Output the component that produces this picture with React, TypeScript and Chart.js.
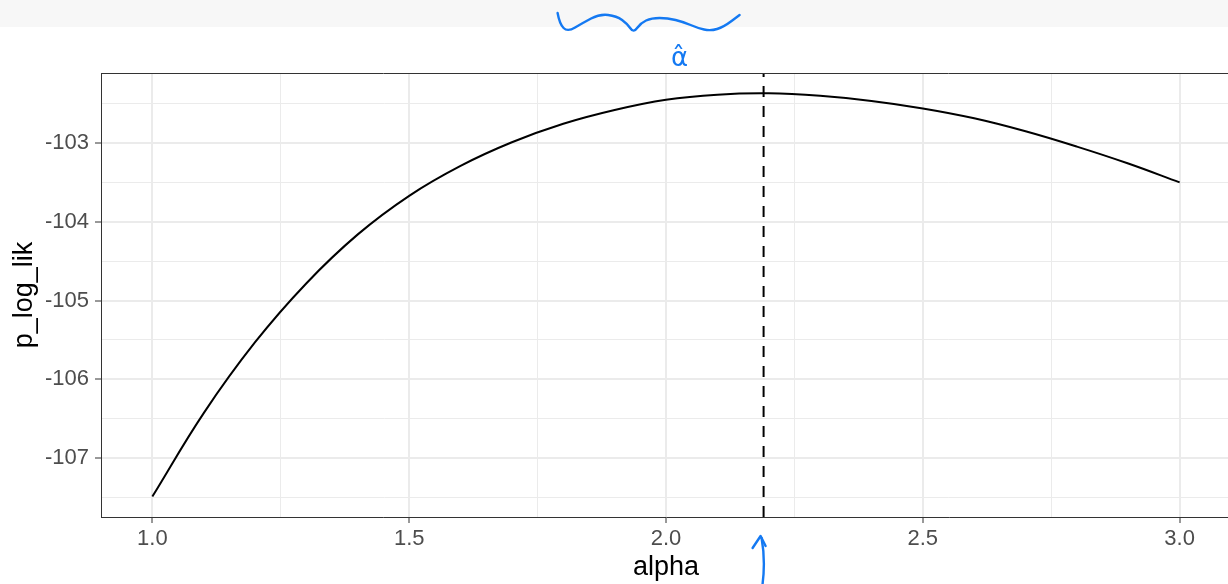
import React, { useEffect, useRef } from "react";
import { Chart, registerables } from "chart.js";

Chart.register(...registerables);

// ---- data ----
const alphaValues = [
  1.0, 1.1, 1.2, 1.3, 1.4, 1.5, 1.6, 1.7, 1.8, 1.9, 2.0, 2.1, 2.2, 2.3, 2.4,
  2.5, 2.6, 2.7, 2.8, 2.9, 3.0,
];
const pLogLik = [
  -107.49, -106.43, -105.53, -104.78, -104.16, -103.67, -103.29, -102.99,
  -102.755, -102.58, -102.45, -102.385, -102.368, -102.4, -102.465, -102.56,
  -102.685, -102.85, -103.045, -103.26, -103.5,
];
const alphaHat = 2.19;

const xRange = [0.9, 3.1];
const yRange = [-107.75, -102.11];
const xMajorTicks = [1.0, 1.5, 2.0, 2.5, 3.0];
const xMinorTicks = [1.25, 1.75, 2.25, 2.75];
const xTickLabels = ["1.0", "1.5", "2.0", "2.5", "3.0"];
const yMajorTicks = [-107, -106, -105, -104, -103];
const yMinorTicks = [-107.5, -106.5, -105.5, -104.5, -103.5, -102.5];
const yTickLabels = ["-107", "-106", "-105", "-104", "-103"];

const xTitle = "alpha";
const yTitle = "p_log_lik";
const hatLabel = "α̂";

const FONT = "'Liberation Sans', Arial, Helvetica, sans-serif";
const CANVAS_W = 1240;
const CANVAS_H = 584;
const INK = "#1479f2";

const near = (a: number, b: number) => Math.abs(a - b) < 1e-6;
const isMajorX = (v: number) => xMajorTicks.some((t) => near(t, v));
const isMajorY = (v: number) => yMajorTicks.some((t) => near(t, v));

const decorPlugin = {
  id: "decor",
  beforeDraw(chart: any) {
    const { ctx, width, height } = chart;
    ctx.save();
    ctx.fillStyle = "#ffffff";
    ctx.fillRect(0, 0, width, height);
    ctx.fillStyle = "#f7f7f7";
    ctx.fillRect(0, 0, width, 27);
    ctx.restore();
  },
  afterDraw(chart: any) {
    const { ctx, chartArea } = chart;
    const xs = chart.scales.x;
    ctx.save();
    // top panel border
    ctx.strokeStyle = "#333333";
    ctx.lineWidth = 1;
    ctx.beginPath();
    const ty = Math.round(chartArea.top) + 0.5;
    ctx.moveTo(chartArea.left, ty);
    ctx.lineTo(chartArea.right, ty);
    ctx.stroke();

    // handwritten annotations
    const xh = xs.getPixelForValue(alphaHat);
    ctx.strokeStyle = INK;
    ctx.fillStyle = INK;
    ctx.lineWidth = 2.4;
    ctx.lineCap = "round";
    ctx.lineJoin = "round";
    const squiggle = [
      [-206, 13], [-204, 24], [-196, 32], [-181, 23], [-164, 14], [-147, 16],
      [-136, 24], [-130, 33], [-123, 23], [-112, 18], [-96, 18], [-80, 22],
      [-66, 28], [-53, 31], [-40, 27], [-24, 15],
    ];
    ctx.beginPath();
    ctx.moveTo(xh + squiggle[0][0], squiggle[0][1]);
    for (let i = 1; i < squiggle.length - 1; i++) {
      const mx = (squiggle[i][0] + squiggle[i + 1][0]) / 2;
      const my = (squiggle[i][1] + squiggle[i + 1][1]) / 2;
      ctx.quadraticCurveTo(xh + squiggle[i][0], squiggle[i][1], xh + mx, my);
    }
    const last = squiggle[squiggle.length - 1];
    ctx.lineTo(xh + last[0], last[1]);
    ctx.stroke();

    // alpha-hat label
    ctx.font = `26px 'DejaVu Sans', sans-serif`;
    ctx.textAlign = "center";
    ctx.textBaseline = "alphabetic";
    ctx.fillText(hatLabel, xh - 84, 66);

    // arrow under the axis
    ctx.beginPath();
    ctx.moveTo(xh - 2, 538);
    ctx.quadraticCurveTo(xh + 2, 560, xh - 1, 584);
    ctx.stroke();
    ctx.beginPath();
    ctx.moveTo(xh - 11, 548);
    ctx.lineTo(xh - 3, 536);
    ctx.lineTo(xh + 2, 546);
    ctx.stroke();
    ctx.restore();
  },
};

export default function App() {
  const ref = useRef<HTMLCanvasElement | null>(null);

  useEffect(() => {
    if (!ref.current) return;
    const curve = alphaValues.map((a, i) => ({ x: a, y: pLogLik[i] }));
    const vline = [
      { x: alphaHat, y: yRange[0] },
      { x: alphaHat, y: yRange[1] },
    ];
    const chart = new Chart(ref.current, {
      type: "line",
      data: {
        datasets: [
          {
            data: curve,
            borderColor: "#000000",
            borderWidth: 2,
            pointRadius: 0,
            tension: 0.4,
            fill: false,
          },
          {
            data: vline,
            borderColor: "#000000",
            borderWidth: 2,
            borderDash: [11, 9],
            pointRadius: 0,
            tension: 0,
            fill: false,
          },
        ],
      },
      plugins: [decorPlugin],
      options: {
        animation: false,
        responsive: false,
        devicePixelRatio: 1,
        events: [],
        layout: { padding: { top: 73, right: CANVAS_W - 1231, left: 0, bottom: 0 } },
        plugins: {
          legend: { display: false },
          tooltip: { enabled: false },
        },
        scales: {
          x: {
            type: "linear",
            min: xRange[0],
            max: xRange[1],
            afterBuildTicks: (scale: any) => {
              scale.ticks = [...xMajorTicks, ...xMinorTicks]
                .sort((a, b) => a - b)
                .map((v) => ({ value: v }));
            },
            afterFit: (scale: any) => {
              scale.height = 67;
            },
            ticks: {
              autoSkip: false,
              maxRotation: 0,
              minRotation: 0,
              padding: 3,
              color: "#4d4d4d",
              font: { family: FONT, size: 22 },
              callback: (v: any) => {
                const i = xMajorTicks.findIndex((t) => near(t, Number(v)));
                return i >= 0 ? xTickLabels[i] : "";
              },
            },
            grid: {
              color: "#ebebeb",
              lineWidth: (c: any) => (isMajorX(c.tick.value) ? 2 : 1),
              tickColor: (c: any) =>
                isMajorX(c.tick.value) ? "#333333" : "rgba(0,0,0,0)",
              tickLength: 6,
              tickWidth: 1,
            },
            border: { display: true, color: "#333333", width: 1 },
            title: {
              display: true,
              text: xTitle,
              color: "#000000",
              font: { family: FONT, size: 27 },
              padding: { top: 0, bottom: 0 },
            },
          },
          y: {
            type: "linear",
            min: yRange[0],
            max: yRange[1],
            afterBuildTicks: (scale: any) => {
              scale.ticks = [...yMajorTicks, ...yMinorTicks]
                .sort((a, b) => a - b)
                .map((v) => ({ value: v }));
            },
            afterFit: (scale: any) => {
              scale.width = 101;
            },
            ticks: {
              autoSkip: false,
              padding: 6,
              color: "#4d4d4d",
              font: { family: FONT, size: 22 },
              callback: (v: any) => {
                const i = yMajorTicks.findIndex((t) => near(t, Number(v)));
                return i >= 0 ? yTickLabels[i] : "";
              },
            },
            grid: {
              color: "#ebebeb",
              lineWidth: (c: any) => (isMajorY(c.tick.value) ? 2 : 1),
              tickColor: (c: any) =>
                isMajorY(c.tick.value) ? "#333333" : "rgba(0,0,0,0)",
              tickLength: 6,
              tickWidth: 1,
            },
            border: { display: true, color: "#333333", width: 1 },
            title: {
              display: true,
              text: yTitle,
              color: "#000000",
              font: { family: FONT, size: 27 },
              padding: { top: 8, bottom: 0 },
            },
          },
        },
      },
    } as any);
    return () => chart.destroy();
  }, []);

  return (
    <div
      style={{
        position: "fixed",
        left: 0,
        top: 0,
        width: 1228,
        height: CANVAS_H,
        overflow: "hidden",
        background: "#ffffff",
      }}
    >
      <canvas
        ref={ref}
        width={CANVAS_W}
        height={CANVAS_H}
        style={{ display: "block", width: CANVAS_W, height: CANVAS_H }}
      />
    </div>
  );
}
